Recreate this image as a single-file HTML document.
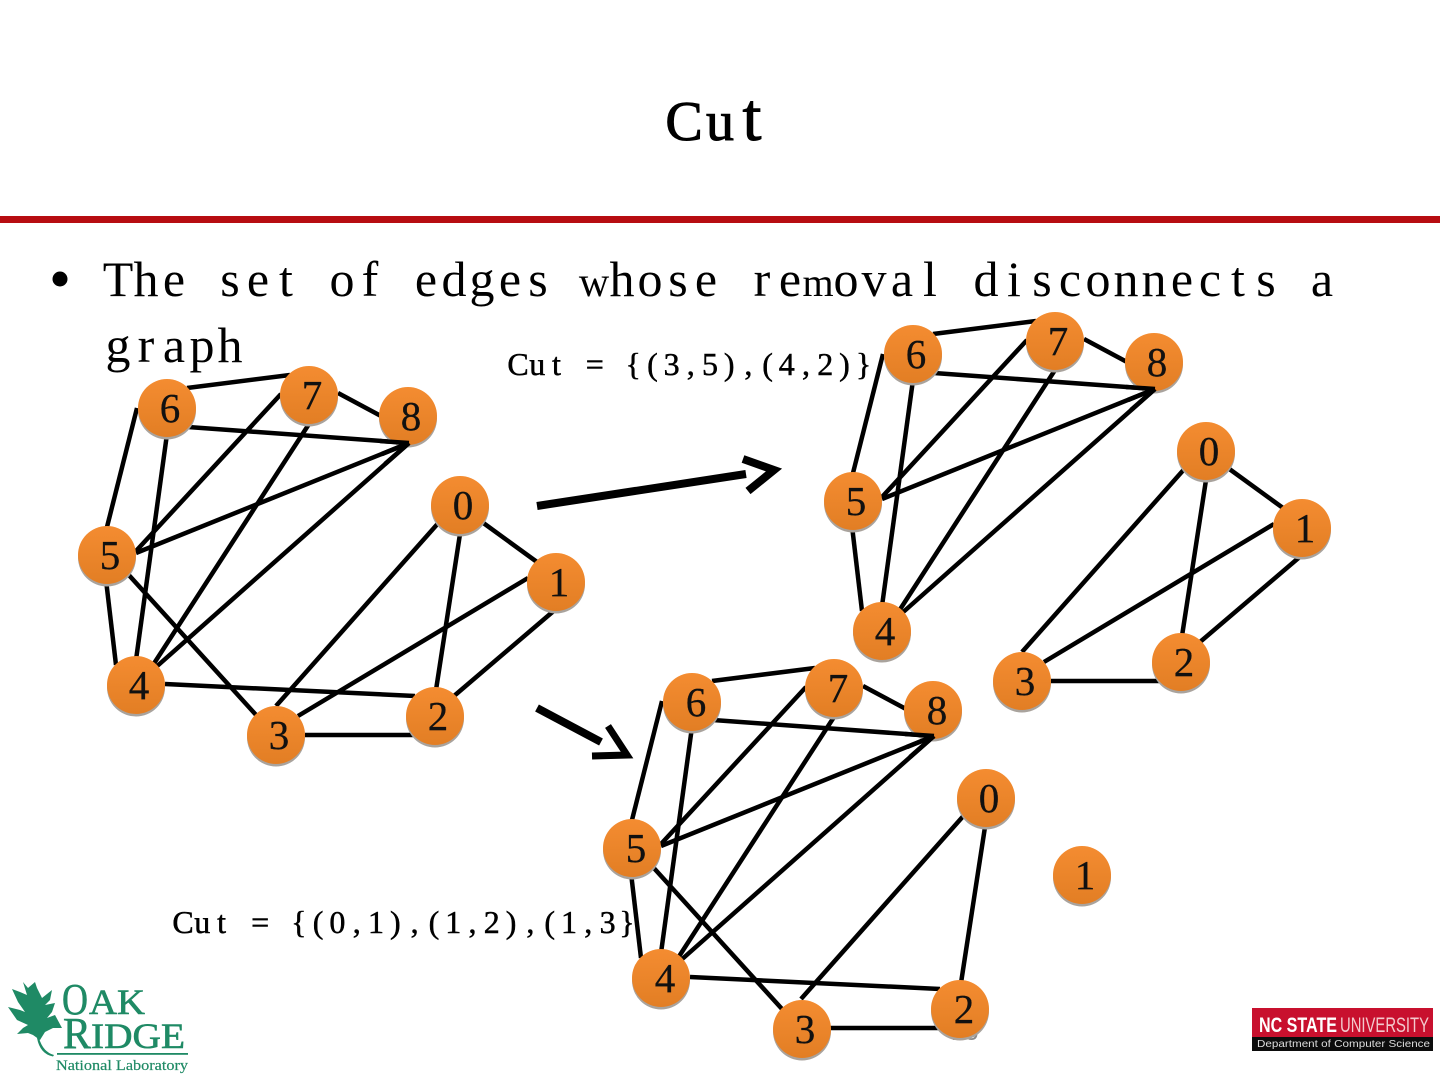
<!DOCTYPE html>
<html lang="en">
<head>
<meta charset="utf-8">
<title>Cut</title>
<style>
html,body{margin:0;padding:0;background:#fff;width:1440px;height:1080px;overflow:hidden}
svg{display:block}
.m{font-family:"Liberation Serif",serif;fill:#000;text-anchor:middle}
.b{font-size:50px}
.l{font-size:32px;stroke:#000;stroke-width:.5}
.t{font-size:56px;stroke:#000;stroke-width:1}
.d{font-family:"Liberation Serif",serif;font-size:41px;fill:#111;text-anchor:middle;stroke:#111;stroke-width:.3}
.e line{stroke:#000;stroke-width:4.5;stroke-linecap:butt}
.a{stroke:#000;fill:none;stroke-linejoin:miter;stroke-miterlimit:10}
</style>
</head>
<body>
<svg width="1440" height="1080" viewBox="0 0 1440 1080" xmlns="http://www.w3.org/2000/svg">
<defs>
<linearGradient id="o" x1="0" y1="0" x2="0" y2="1">
<stop offset="0" stop-color="#f48c31"/>
<stop offset="1" stop-color="#e27e24"/>
</linearGradient>
<symbol id="n" overflow="visible">
<circle cx="0" cy="2.5" r="29" fill="#a9a39d"/>
<circle cx="0" cy="0" r="29" fill="url(#o)"/>
</symbol>
</defs>
<rect width="1440" height="1080" fill="#fff"/>

<text class="m t" x="684 720 752" y="140">Cu<tspan font-size="68">t</tspan></text>
<rect x="0" y="216" width="1440" height="7" fill="#b70d11"/>
<circle cx="60" cy="279" r="7.5" fill="#000"/>
<text class="m b" y="296" x="118 146 174 202 230 258 286 314 342 370 398 426 454 482 510 538 566 594 622 650 678 706 734 762 790 818 846 874 902 930 958 986 1014 1042 1070 1098 1126 1154 1182 1210 1238 1266 1294 1322">The set of edges <tspan font-size="42">w</tspan>hose re<tspan font-size="40">m</tspan>oval disconnects a</text>
<text class="m b" y="362" x="118 146 174 202 230">graph</text>
<text class="m l" y="375" x="518 537.2 556.4 575.6 594.8 614 633.2 652.4 671.6 690.8 710 729.2 748.4 767.6 786.8 806 825.2 844.4 863.6">Cut = {(3,5),(4,2)}</text>
<text class="m l" y="933" x="183 202.3 221.6 240.9 260.2 279.5 298.8 318.1 337.4 356.7 376 395.3 414.6 433.9 453.2 472.5 491.8 511.1 530.4 549.7 569 588.3 607.6 626.9">Cut = {(0,1),(1,2),(1,3}</text>

<text x="965" y="1040" font-family="Liberation Sans,sans-serif" font-size="24" fill="#8a8a8a" text-anchor="middle">25</text>

<!-- left graph -->
<g class="e">
<line x1="187" y1="388" x2="290" y2="375"/>
<line x1="338" y1="393" x2="381" y2="416"/>
<line x1="188" y1="427" x2="409" y2="443"/>
<line x1="137" y1="408" x2="107" y2="527"/>
<line x1="167" y1="434" x2="136" y2="660"/>
<line x1="281" y1="394" x2="136" y2="551"/>
<line x1="309" y1="424" x2="153" y2="665"/>
<line x1="409" y1="443" x2="136" y2="553"/>
<line x1="409" y1="443" x2="155" y2="668"/>
<line x1="106" y1="580" x2="116" y2="665"/>
<line x1="127" y1="573" x2="257" y2="716"/>
<line x1="165" y1="684" x2="415" y2="696"/>
<line x1="305" y1="735" x2="415" y2="735"/>
<line x1="441" y1="520" x2="276" y2="706"/>
<line x1="528" y1="578" x2="298" y2="716"/>
<line x1="482" y1="522" x2="537" y2="562"/>
<line x1="460" y1="534" x2="436" y2="690"/>
<line x1="556" y1="609" x2="454" y2="696"/>
</g>

<!-- top right graph -->
<g class="e" transform="translate(746,-54)">
<line x1="187" y1="388" x2="290" y2="375"/>
<line x1="338" y1="393" x2="381" y2="416"/>
<line x1="188" y1="427" x2="409" y2="443"/>
<line x1="137" y1="408" x2="107" y2="527"/>
<line x1="167" y1="434" x2="136" y2="660"/>
<line x1="281" y1="394" x2="136" y2="551"/>
<line x1="309" y1="424" x2="153" y2="665"/>
<line x1="409" y1="443" x2="136" y2="553"/>
<line x1="409" y1="443" x2="155" y2="668"/>
<line x1="106" y1="580" x2="116" y2="665"/>
<line x1="305" y1="735" x2="415" y2="735"/>
<line x1="441" y1="520" x2="276" y2="706"/>
<line x1="528" y1="578" x2="298" y2="716"/>
<line x1="482" y1="522" x2="537" y2="562"/>
<line x1="460" y1="534" x2="436" y2="690"/>
<line x1="556" y1="609" x2="454" y2="696"/>
</g>

<!-- bottom graph -->
<g class="e" transform="translate(525,293)">
<line x1="187" y1="388" x2="290" y2="375"/>
<line x1="338" y1="393" x2="381" y2="416"/>
<line x1="188" y1="427" x2="409" y2="443"/>
<line x1="137" y1="408" x2="107" y2="527"/>
<line x1="167" y1="434" x2="136" y2="660"/>
<line x1="281" y1="394" x2="136" y2="551"/>
<line x1="309" y1="424" x2="153" y2="665"/>
<line x1="409" y1="443" x2="136" y2="553"/>
<line x1="409" y1="443" x2="155" y2="668"/>
<line x1="106" y1="580" x2="116" y2="665"/>
<line x1="127" y1="573" x2="257" y2="716"/>
<line x1="165" y1="684" x2="415" y2="696"/>
<line x1="305" y1="735" x2="415" y2="735"/>
<line x1="441" y1="520" x2="276" y2="706"/>
<line x1="460" y1="534" x2="436" y2="690"/>
</g>

<!-- arrows -->
<line class="a" x1="537" y1="506" x2="746" y2="474" stroke-width="8"/>
<polyline class="a" points="743,459 774,470 748,491" stroke-width="8"/>
<line class="a" x1="537" y1="708" x2="601" y2="742" stroke-width="8"/>
<polyline class="a" points="608,726 627,755 592,756" stroke-width="7"/>

<!-- left nodes -->
<use href="#n" x="167" y="408"/><text class="d" x="170" y="422">6</text>
<use href="#n" x="309" y="395"/><text class="d" x="312" y="409">7</text>
<use href="#n" x="408" y="416"/><text class="d" x="411" y="430">8</text>
<use href="#n" x="107" y="555"/><text class="d" x="110" y="569">5</text>
<use href="#n" x="136" y="685"/><text class="d" x="139" y="699">4</text>
<use href="#n" x="276" y="735"/><text class="d" x="279" y="749">3</text>
<use href="#n" x="435" y="716"/><text class="d" x="438" y="730">2</text>
<use href="#n" x="556" y="582"/><text class="d" x="559" y="596">1</text>
<use href="#n" x="460" y="505"/><text class="d" x="463" y="519">0</text>

<!-- top right nodes -->
<use href="#n" x="913" y="354"/><text class="d" x="916" y="368">6</text>
<use href="#n" x="1055" y="341"/><text class="d" x="1058" y="355">7</text>
<use href="#n" x="1154" y="362"/><text class="d" x="1157" y="376">8</text>
<use href="#n" x="853" y="501"/><text class="d" x="856" y="515">5</text>
<use href="#n" x="882" y="631"/><text class="d" x="885" y="645">4</text>
<use href="#n" x="1022" y="681"/><text class="d" x="1025" y="695">3</text>
<use href="#n" x="1181" y="662"/><text class="d" x="1184" y="676">2</text>
<use href="#n" x="1302" y="528"/><text class="d" x="1305" y="542">1</text>
<use href="#n" x="1206" y="451"/><text class="d" x="1209" y="465">0</text>

<!-- bottom nodes -->
<use href="#n" x="692" y="702"/><text class="d" x="696" y="716">6</text>
<use href="#n" x="834" y="688"/><text class="d" x="838" y="702">7</text>
<use href="#n" x="933" y="710"/><text class="d" x="937" y="724">8</text>
<use href="#n" x="632" y="848"/><text class="d" x="636" y="862">5</text>
<use href="#n" x="661" y="978"/><text class="d" x="665" y="992">4</text>
<use href="#n" x="802" y="1029"/><text class="d" x="805" y="1043">3</text>
<use href="#n" x="960" y="1009"/><text class="d" x="964" y="1023">2</text>
<use href="#n" x="1082" y="875"/><text class="d" x="1085" y="889">1</text>
<use href="#n" x="986" y="798"/><text class="d" x="989" y="812">0</text>

<!-- edge ends that run over node 8's lower rim -->
<g class="e">
<line x1="380" y1="441" x2="409" y2="443"/>
<line x1="382" y1="454" x2="409" y2="443"/>
<line x1="385" y1="464" x2="409" y2="443"/>
</g>
<g class="e" transform="translate(746,-54)">
<line x1="380" y1="441" x2="409" y2="443"/>
<line x1="382" y1="454" x2="409" y2="443"/>
<line x1="385" y1="464" x2="409" y2="443"/>
</g>
<g class="e" transform="translate(525,293)">
<line x1="380" y1="441" x2="409" y2="443"/>
<line x1="382" y1="454" x2="409" y2="443"/>
<line x1="385" y1="464" x2="409" y2="443"/>
</g>

<!-- Oak Ridge logo -->
<g fill="#1f8a65">
<path d="M23,982 L28,988 L35,982 L37,988 L42,998 L52,990 L50,1000 L45,1005 L55,1003 L52,1012 L47,1018 L55,1015 L62,1028 L53,1028 L45,1032 L40,1040 L33,1035 L28,1033 L17,1034 L23,1028 L28,1025 L17,1020 L8,1007 L20,1010 L25,1012 L18,1002 L12,989 L20,992 L27,995 Z"/>
<path d="M39,1038 Q43,1052 54,1055 L53,1056.5 Q40,1054 37,1038 Z"/>
<rect x="57" y="1053" width="131" height="1.8"/>
<g font-family="Liberation Serif,serif" stroke="#1f8a65" stroke-width=".6">
<text x="62" y="1014" font-size="44" textLength="26" lengthAdjust="spacingAndGlyphs">O</text>
<text x="89" y="1014" font-size="36" textLength="56" lengthAdjust="spacingAndGlyphs">AK</text>
<text x="63" y="1048" font-size="44" textLength="28" lengthAdjust="spacingAndGlyphs">R</text>
<text x="91" y="1048" font-size="36" textLength="94" lengthAdjust="spacingAndGlyphs">IDGE</text>
</g>
<text x="56" y="1070" font-family="Liberation Serif,serif" font-size="14.5" stroke="#1f8a65" stroke-width=".2" textLength="132" lengthAdjust="spacingAndGlyphs">National Laboratory</text>
</g>

<!-- NC State logo -->
<rect x="1252" y="1008" width="181" height="30" fill="#c8102e"/>
<rect x="1252" y="1037" width="181" height="14" fill="#0c0c0c"/>
<text x="1259" y="1032" font-family="Liberation Sans,sans-serif" font-size="21" font-weight="bold" fill="#fff" textLength="78" lengthAdjust="spacingAndGlyphs">NC STATE</text>
<text x="1340" y="1032" font-family="Liberation Sans,sans-serif" font-size="21" fill="#f3c9cd" textLength="89" lengthAdjust="spacingAndGlyphs">UNIVERSITY</text>
<text x="1257" y="1047" font-family="Liberation Sans,sans-serif" font-size="10.5" fill="#ddd" textLength="173" lengthAdjust="spacingAndGlyphs">Department of Computer Science</text>
</svg>
</body>
</html>
